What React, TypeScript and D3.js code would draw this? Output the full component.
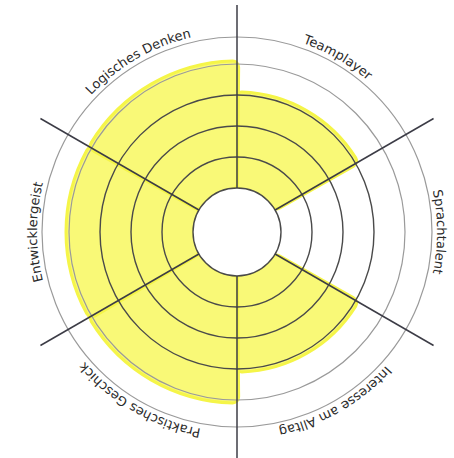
import * as d3 from "d3";

// skill wheel: six segments clockwise from 12 o'clock
const SKILLS = [
  "Teamplayer",
  "Sprachtalent",
  "Interesse am Alltag",
  "Praktisches Geschick",
  "Entwicklergeist",
  "Logisches Denken",
];
const LEVELS = [3, 0, 3, 4, 4, 4];
const RING_LEVELS = [0, 1, 2, 3, 4];
const MAX_LEVEL = 4;

const W = 454;
const H = 458;
const cx = 237;
const cy = 232;
const INNER_R = 44;
const RING_R = 168;
const LABEL_CIRCLE_R = 195;
const LABEL_R = 200;
const SPOKE_R = 227;

const r = d3.scaleLinear().domain([0, MAX_LEVEL]).range([INNER_R, RING_R]);
const seg = (2 * Math.PI) / SKILLS.length;

const arc = d3
  .arc<{ i: number; v: number }>()
  .innerRadius(INNER_R - 1)
  .outerRadius((d) => r(d.v) + 3)
  .startAngle((d) => d.i * seg - 0.01)
  .endAngle((d) => (d.i + 1) * seg + 0.01)
  .cornerRadius(6);

const labelPath =
  `M ${cx} ${cy - LABEL_R} A ${LABEL_R} ${LABEL_R} 0 1 1 ${cx} ${cy + LABEL_R} ` +
  `A ${LABEL_R} ${LABEL_R} 0 1 1 ${cx} ${cy - LABEL_R}`;

export default function App() {
  const fills = LEVELS.map((v, i) => ({ i, v })).filter((d) => d.v > 0);

  return (
    <svg
      width={W}
      height={H}
      viewBox={`0 0 ${W} ${H}`}
      style={{ position: "absolute", left: 0, top: 0, background: "#fff" }}
    >
      <defs>
        <path id="label-path" d={labelPath} fill="none" />
      </defs>

      <g transform={`translate(${cx},${cy})`}>
        {fills.map((d) => (
          <path
            key={d.i}
            d={arc(d) ?? ""}
            fill="#f9f977"
            stroke="#f5f548"
            strokeWidth={3}
            strokeLinejoin="round"
          />
        ))}

        <circle r={LABEL_CIRCLE_R} fill="none" stroke="#9a9a9a" strokeWidth={1.2} />
        {RING_LEVELS.map((l) => (
          <circle
            key={l}
            r={r(l)}
            fill={l === 0 ? "#fff" : "none"}
            stroke={l === MAX_LEVEL ? "#9a9a9a" : "#4a4a4a"}
            strokeWidth={l === MAX_LEVEL ? 1.2 : 1.4}
          />
        ))}

        {SKILLS.map((_, i) => {
          const a = i * seg;
          return (
            <line
              key={i}
              x1={INNER_R * Math.sin(a)}
              y1={-INNER_R * Math.cos(a)}
              x2={SPOKE_R * Math.sin(a)}
              y2={-SPOKE_R * Math.cos(a)}
              stroke="#3c3c46"
              strokeWidth={1.5}
            />
          );
        })}
      </g>

      {SKILLS.map((s, i) => (
        <text
          key={s}
          fontFamily="DejaVu Sans, Verdana, sans-serif"
          fontSize={13}
          fill="#2b2b2b"
          textAnchor="middle"
        >
          <textPath href="#label-path" startOffset={`${((i + 0.5) / SKILLS.length) * 100}%`}>
            {s}
          </textPath>
        </text>
      ))}
    </svg>
  );
}
